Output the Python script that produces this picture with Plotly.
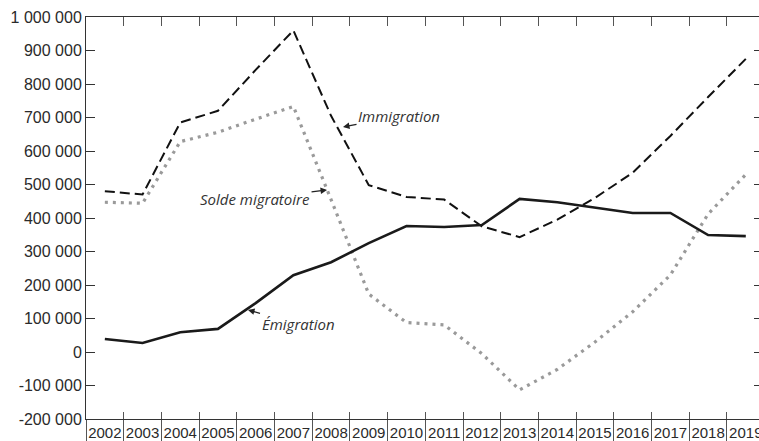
import plotly.graph_objects as go

years = [str(y) for y in range(2002, 2020)]
immigration = [480000, 470000, 685000, 720000, 842000, 960000, 705000, 498000, 463000,
               455000, 375000, 343000, 395000, 460000, 535000, 645000, 761000, 875000]
emigration = [39000, 27000, 59000, 69000, 146000, 229000, 268000, 325000, 376000,
              373000, 379000, 457000, 447000, 430000, 415000, 415000, 349000, 346000]
solde = [447000, 444000, 628000, 656000, 695000, 733000, 455000, 173000, 88000,
         81000, -5000, -113000, -52000, 30000, 120000, 230000, 412000, 530000]

y_tick_values = [-200000, -100000, 0, 100000, 200000, 300000, 400000, 500000,
                 600000, 700000, 800000, 900000, 1000000]
y_tick_labels = ["-200 000", "-100 000", "0", "100 000", "200 000", "300 000", "400 000",
                 "500 000", "600 000", "700 000", "800 000", "900 000", "1 000 000"]

AX = "#333333"
fig = go.Figure()
fig.add_trace(go.Scatter(x=years, y=solde, mode="lines", name="Solde migratoire",
                         line=dict(color="#9a9a9a", width=3.2, dash="3px,5px")))
fig.add_trace(go.Scatter(x=years, y=immigration, mode="lines", name="Immigration",
                         line=dict(color="#111111", width=2, dash="10px,5px")))
fig.add_trace(go.Scatter(x=years, y=emigration, mode="lines", name="Émigration",
                         line=dict(color="#1a1a1a", width=2.6)))
# invisible helpers so the decorative overlay axes are drawn
fig.add_trace(go.Scatter(x=[None], y=[None], xaxis="x2", yaxis="y", mode="lines",
                         showlegend=False, hoverinfo="skip"))
fig.add_trace(go.Scatter(x=[None], y=[None], xaxis="x3", yaxis="y", mode="lines",
                         showlegend=False, hoverinfo="skip"))
fig.add_trace(go.Scatter(x=[None], y=[None], xaxis="x2", yaxis="y2", mode="lines",
                         showlegend=False, hoverinfo="skip"))

# the reference plot area continues a few pixels past the right edge of the picture
xr = [-0.5, 17.35]
fig.update_layout(
    width=759, height=441,
    margin=dict(l=86, r=0, t=17, b=22, autoexpand=False),
    paper_bgcolor="white", plot_bgcolor="white",
    showlegend=False,
    font=dict(family="Liberation Sans, Arial, sans-serif", color="#2a2a2a"),
    xaxis=dict(type="category", categoryorder="array", categoryarray=years,
               range=xr, tickson="boundaries", ticks="inside", ticklen=7,
               tickcolor="#555555", tickwidth=1, showline=True, linecolor=AX,
               linewidth=1, showgrid=False, zeroline=False, tickangle=0,
               automargin=False, tickfont=dict(size=15, color="#2a2a2a")),
    xaxis2=dict(overlaying="x", side="top", anchor="y", range=xr, tick0=0.5, dtick=1,
                ticks="inside", ticklen=9, tickcolor="#555555", showticklabels=False,
                showline=True, linecolor=AX, linewidth=1, showgrid=False, zeroline=False,
                automargin=False),
    xaxis3=dict(overlaying="x", side="bottom", anchor="y", range=xr, tick0=-0.5, dtick=1,
                ticks="outside", ticklen=26, tickcolor="#555555", showticklabels=False,
                showline=False, showgrid=False, zeroline=False, automargin=False),
    yaxis=dict(range=[-200000, 1000000], tickvals=y_tick_values, ticktext=y_tick_labels,
               ticks="inside", ticklen=9, tickcolor=AX, showline=True, linecolor=AX,
               linewidth=1, showgrid=False, zeroline=False, automargin=False,
               tickfont=dict(size=16, color="#2a2a2a")),
    yaxis2=dict(overlaying="y", side="right", anchor="x", range=[-200000, 1000000],
                tickvals=y_tick_values, ticks="inside", ticklen=5, tickcolor=AX,
                showticklabels=False, showline=False, showgrid=False, zeroline=False,
                automargin=False),
)

ann_font = dict(family="Open Sans, Noto Sans, sans-serif", size=15, color="#333333", style="italic")
fig.add_annotation(x=6.317, y=671600, xref="x", yref="y", text="Immigration",
                   showarrow=True, arrowhead=2, arrowsize=1, arrowwidth=1.3,
                   arrowcolor="#222222", ax=56, ay=-11, standoff=0, font=ann_font)
fig.add_annotation(x=5.893, y=483600, xref="x", yref="y", text="Solde migratoire",
                   showarrow=True, arrowhead=2, arrowsize=1, arrowwidth=1.3,
                   arrowcolor="#222222", ax=-72, ay=9, standoff=0, font=ann_font)
fig.add_annotation(x=3.797, y=125400, xref="x", yref="y", text="Émigration",
                   showarrow=True, arrowhead=2, arrowsize=1, arrowwidth=1.3,
                   arrowcolor="#222222", ax=50, ay=14, standoff=0, font=ann_font)

fig.write_html("out.html",
               config={"displayModeBar": False},
               post_script="document.documentElement.style.margin='0';"
                           "document.body.style.margin='0';"
                           "document.body.style.overflow='hidden';")
